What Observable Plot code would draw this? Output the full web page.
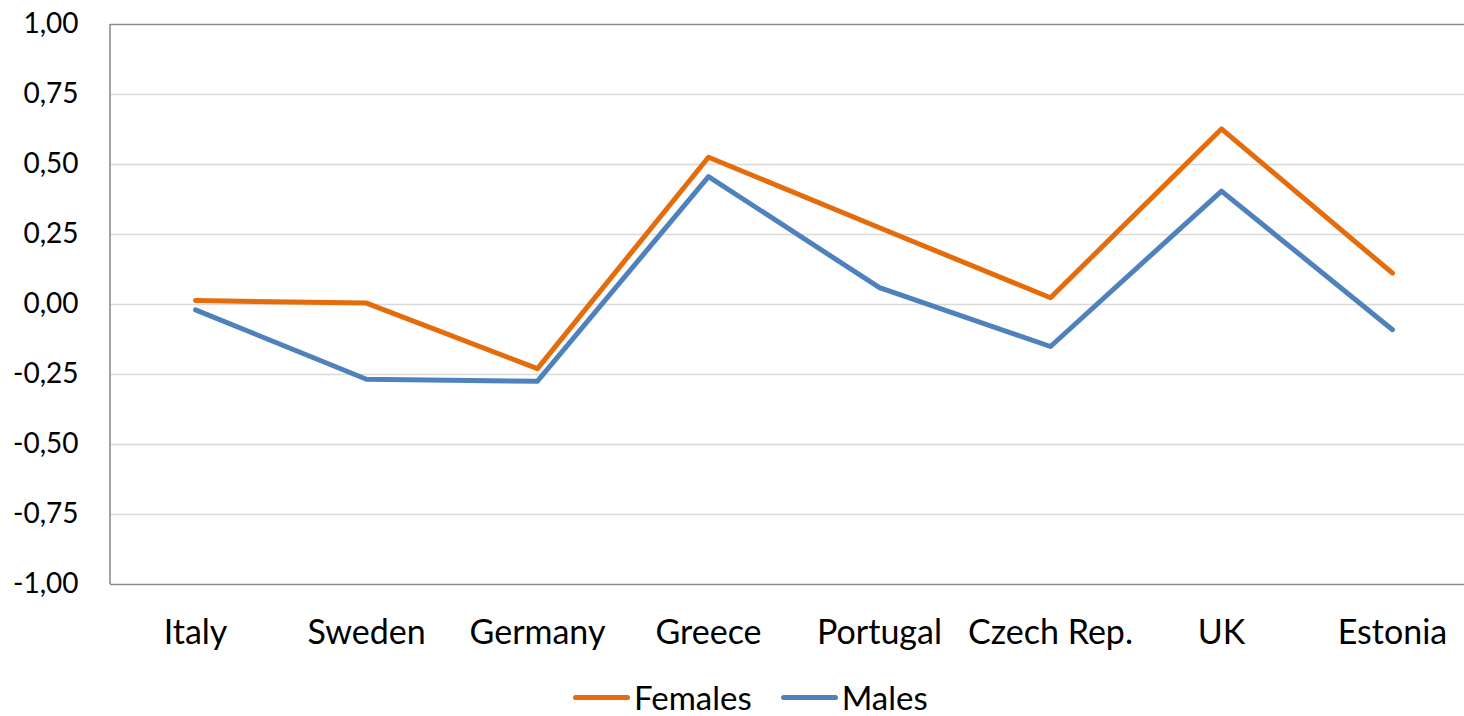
<!DOCTYPE html>
<html>
<head>
<meta charset="utf-8">
<script src="https://cdn.jsdelivr.net/npm/d3@7"></script>
<script src="https://cdn.jsdelivr.net/npm/@observablehq/plot@0.6"></script>
<style>
  html, body { margin: 0; padding: 0; background: #fff; overflow: hidden; }
  body { width: 1464px; height: 716px; position: relative; font-family: Lato, "Open Sans", sans-serif; }
  #legend { position: absolute; left: 573px; top: 680px; height: 34px; line-height: 34px; display: flex; align-items: center; font-size: 33px; color: #000; }
  .sw { width: 57px; height: 5px; border-radius: 3px; display: inline-block; }
  .lab { margin-left: 4px; }
</style>
</head>
<body>
<div id="chart"></div>
<div id="legend">
  <span class="sw" style="background:#E46C0A"></span><span class="lab">Females</span>
  <span class="sw" style="background:#4F81BD; margin-left:29px"></span><span class="lab">Males</span>
</div>
<script>
const countries = ["Italy", "Sweden", "Germany", "Greece", "Portugal", "Czech Rep.", "UK", "Estonia"];
const females = [0.014, 0.005, -0.229, 0.526, 0.274, 0.024, 0.627, 0.112];
const males = [-0.019, -0.267, -0.274, 0.457, 0.060, -0.150, 0.405, -0.090];
const seriesNames = ["Females", "Males"];
const seriesColors = ["#E46C0A", "#4F81BD"];
const yTicks = [-1, -0.75, -0.5, -0.25, 0, 0.25, 0.5, 0.75, 1];

const data = [];
countries.forEach((c, i) => {
  data.push({country: c, series: "Females", value: females[i]});
  data.push({country: c, series: "Males", value: males[i]});
});

const fmt = d => d.toFixed(2).replace(".", ",");

const chart = Plot.plot({
  width: 1464,
  height: 670,
  marginTop: 24,
  marginBottom: 86,
  marginLeft: 110,
  marginRight: 0,
  style: {fontFamily: "Lato, 'Open Sans', sans-serif", background: "#fff", color: "#000"},
  x: {type: "point", domain: countries, range: [195, 1392], padding: 0},
  y: {domain: [-1, 1]},
  color: {domain: seriesNames, range: seriesColors},
  marks: [
    Plot.ruleY(yTicks.filter(t => t !== -1 && t !== 1), {stroke: "#d9d9d9", strokeWidth: 1.6}),
    Plot.ruleY([-1, 1], {stroke: "#8c8c8c", strokeWidth: 1.6}),
    Plot.axisY({ticks: yTicks, tickFormat: fmt, tickSize: 0, tickPadding: 32, fontSize: 28, label: null}),
    Plot.axisX({tickSize: 0, tickPadding: 35, fontSize: 34, label: null}),
    Plot.line(data, {x: "country", y: "value", z: "series", stroke: "series", strokeWidth: 5, strokeLinecap: "round", strokeLinejoin: "round"})
  ]
});
document.getElementById("chart").appendChild(chart);
// left axis line at plot edge
const svg = d3.select(chart);
svg.append("line").attr("x1", 110).attr("x2", 110).attr("y1", 24).attr("y2", 584).attr("stroke", "#8c8c8c").attr("stroke-width", 1.6);
</script>
</body>
</html>
